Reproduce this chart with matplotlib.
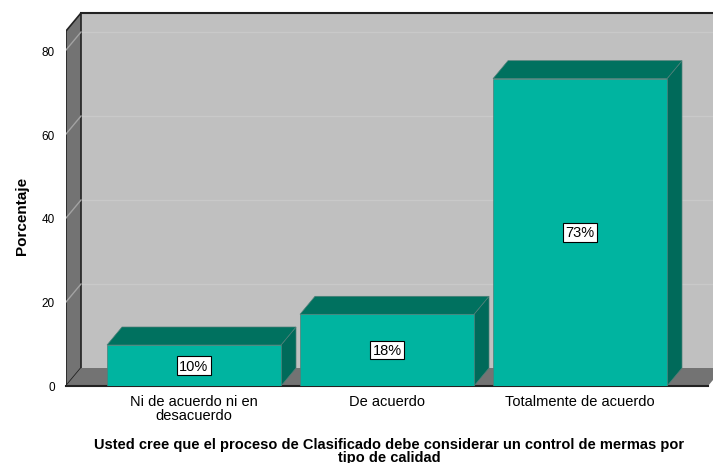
import numpy as np
import matplotlib.pyplot as plt
from matplotlib.patches import Polygon

plt.rcParams['font.family'] = ['Liberation Sans', 'DejaVu Sans']

# Datos
categorias = ["Ni de acuerdo ni en\ndesacuerdo", "De acuerdo", "Totalmente de acuerdo"]
porcentajes = [9.76, 17.07, 73.17]
etiquetas = ["10%", "18%", "73%"]
yticks = [0, 20, 40, 60, 80]
titulo_x = ("Usted cree que el proceso de Clasificado debe considerar un control de mermas por\n"
            "tipo de calidad")

# Colores estilo SPSS
c_frente = '#00b4a0'
c_arriba = '#00715f'
c_lado = '#006a5a'
c_pared = '#c0c0c0'
c_lateral = '#737373'
c_grid_pared = '#c9c9c9'
c_grid_lat = '#a3a3a3'

W, H = 713, 464
fig = plt.figure(figsize=(W / 100, H / 100), dpi=100)
ax = fig.add_axes([66 / W, (H - 387) / H, (713 - 66) / W, (387 - 14) / H])

# escala: 193 px por categoria, 4.2 px por unidad
x0 = (66 - 194) / 193
x1 = (713 - 194) / 193
ytop = (387 - 14) / 4.2
DX = 15 / 193   # profundidad 3D
DY = 18 / 4.2
ancho = 174 / 193
x_floor_end = (708 - 194) / 193

ax.set_xlim(x0, x1)
ax.set_ylim(0, ytop)
for s in ax.spines.values():
    s.set_visible(False)

# pared de fondo
ax.add_patch(Polygon([(x0 + DX, DY), (x1 + 1, DY), (x1 + 1, ytop), (x0 + DX, ytop)],
                     closed=True, fc=c_pared, ec='none', zorder=1))
# pared lateral izquierda
ax.add_patch(Polygon([(x0, 0), (x0 + DX, DY), (x0 + DX, ytop), (x0, ytop - DY)],
                     closed=True, fc=c_lateral, ec='#222222', lw=1.2, zorder=2))
# piso
ax.add_patch(Polygon([(x0, 0), (x_floor_end, 0), (x_floor_end + DX, DY), (x0 + DX, DY)],
                     closed=True, fc=c_lateral, ec='none', zorder=2))
ax.plot([x0, x_floor_end], [0, 0], color='#222222', lw=1.5, zorder=3, clip_on=False)
ax.plot([x0 + DX, x1], [ytop, ytop], color='#222222', lw=1.5, zorder=3, clip_on=False)

# lineas de cuadricula
for v in yticks[1:]:
    ax.plot([x0 + DX, x1], [v + DY, v + DY], color=c_grid_pared, lw=1, zorder=1.5)
    ax.plot([x0, x0 + DX], [v, v + DY], color=c_grid_lat, lw=1, zorder=2.5)

# barras 3D
for i, (val, lab) in enumerate(zip(porcentajes, etiquetas)):
    xl = i - ancho / 2
    xr = i + ancho / 2
    ax.add_patch(Polygon([(xr, 0), (xr + DX, DY), (xr + DX, val + DY), (xr, val)],
                         closed=True, fc=c_lado, ec='#4f7f78', lw=0.5, zorder=4))
    ax.add_patch(Polygon([(xl, val), (xl + DX, val + DY), (xr + DX, val + DY), (xr, val)],
                         closed=True, fc=c_arriba, ec='#4f7f78', lw=0.5, zorder=4))
    ax.bar(i, val, width=ancho, color=c_frente, edgecolor='#4f7f78', lw=0.5, zorder=5)
    ax.text(i, val / 2, lab, ha='center', va='center', fontsize=10.5, zorder=6,
            bbox=dict(boxstyle='square,pad=0.15', fc='white', ec='black', lw=0.8))

ax.set_yticks(yticks)
ax.set_yticklabels([str(t) for t in yticks], fontsize=8.5)
ax.set_xticks(range(len(categorias)))
ax.set_xticklabels(categorias, fontsize=10.5, linespacing=1.0)
ax.tick_params(axis='y', length=0, pad=8)
ax.tick_params(axis='x', length=0, pad=6)

ax.set_ylabel("Porcentaje", fontsize=11, fontweight='bold', labelpad=9)
ax.yaxis.label.set_y(0.458)
ax.set_xlabel(titulo_x, fontsize=10.5, fontweight='bold', labelpad=10.5, linespacing=0.88)

fig.savefig("out.png", dpi=100)
